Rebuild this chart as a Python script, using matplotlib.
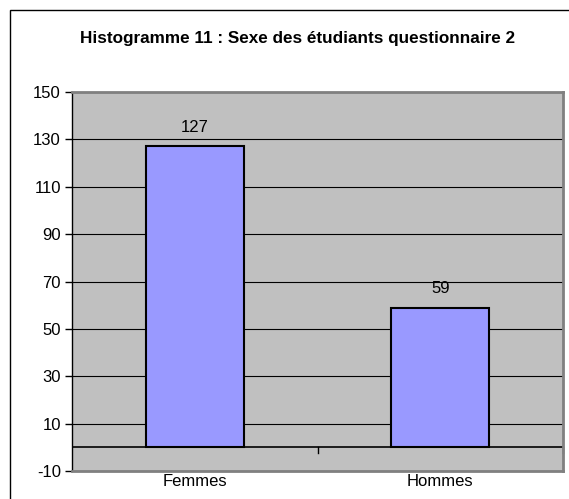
import matplotlib
matplotlib.use("Agg")
import matplotlib.pyplot as plt
from matplotlib.patches import Rectangle

categories = ["Femmes", "Hommes"]
counts = [127, 59]
y_ticks = [-10, 10, 30, 50, 70, 90, 110, 130, 150]
title = "Histogramme 11 : Sexe des étudiants questionnaire 2"

plt.rcParams['font.family'] = ['Liberation Sans', 'DejaVu Sans']
plt.rcParams['axes.unicode_minus'] = False

W, H = 569, 499
fig = plt.figure(figsize=(W / 100, H / 100), dpi=100)

# outer chart border (only top/left visible in the reference)
fig.patches.append(Rectangle((10 / W, -0.1), 1.2, (H - 10) / H + 0.1, transform=fig.transFigure,
                             fill=False, edgecolor='black', linewidth=1.0))

ax = fig.add_axes([72 / W, (H - 471) / H, 491 / W, (471 - 92) / H])
ax.set_facecolor('#C0C0C0')

x = range(len(categories))
ax.bar(x, counts, width=0.4, color='#9999FF', edgecolor='black', linewidth=1.5, zorder=3)

for xi, v in zip(x, counts):
    ax.annotate(str(v), (xi, v), xytext=(0, 14), textcoords='offset points',
                ha='center', va='center', fontsize=12)

ax.set_xlim(-0.5, len(categories) - 0.5)
ax.set_ylim(-10, 150)
ax.set_yticks(y_ticks)
ax.tick_params(axis='y', direction='out', length=5, width=1, labelsize=12, pad=3)
ax.grid(axis='y', color='black', linewidth=0.8, zorder=1)

# category axis crossing at zero
ax.axhline(0, color='black', linewidth=1.2, zorder=2)
for b in [0.5, 1.5]:
    ax.plot([b, b], [0, -2.2], color='black', linewidth=1, zorder=2, clip_on=False)

ax.set_xticks([])
for xi, c in zip(x, categories):
    ax.annotate(c, (xi, -10), xytext=(0, -2), textcoords='offset points',
                ha='center', va='top', fontsize=12)

for side in ['top', 'right', 'bottom']:
    ax.spines[side].set_color('#808080')
    ax.spines[side].set_linewidth(2)
ax.spines['left'].set_color('black')
ax.spines['left'].set_linewidth(1)

fig.text(297 / W, 1 - 38 / H, title, ha='center', va='center', fontsize=12.3, fontweight='bold')

fig.savefig('out.png', dpi=100)
